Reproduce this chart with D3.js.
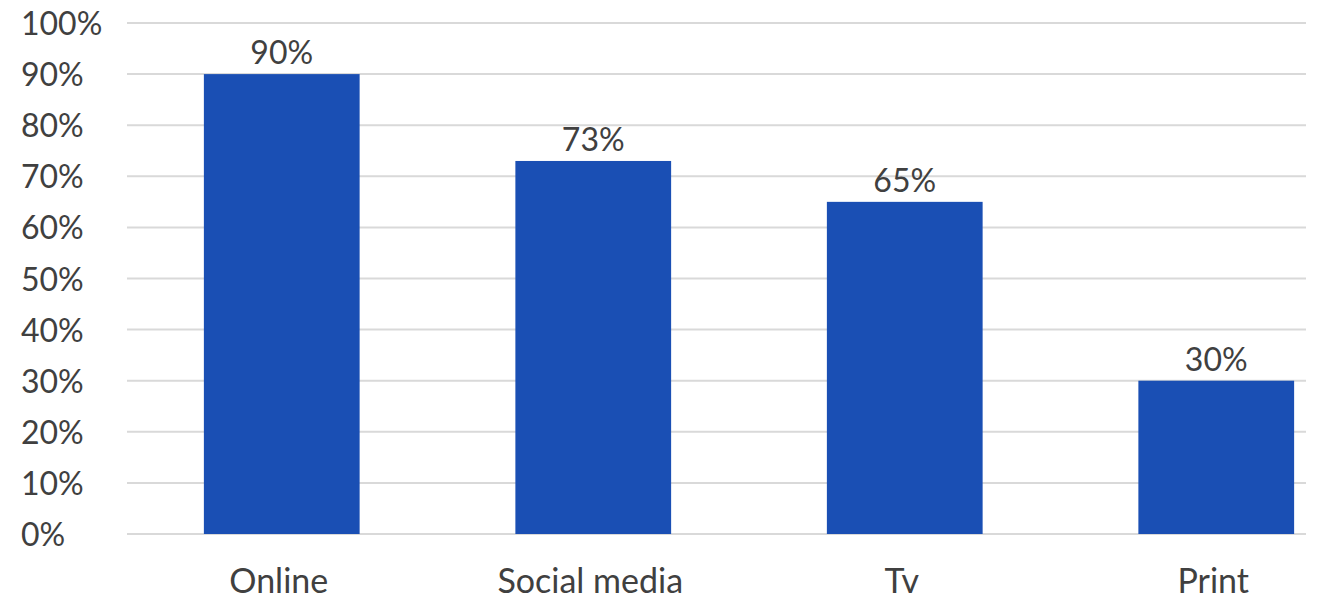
<!DOCTYPE html>
<html>
<head>
<meta charset="utf-8">
<script src="https://cdn.jsdelivr.net/npm/d3@7"></script>
<style>
  body { margin: 0; background: #fff; }
  text { font-family: Lato, "Open Sans", sans-serif; fill: #404040; }
</style>
</head>
<body>
<script>
var categories = ["Online", "Social media", "Tv", "Print"];
var values = [90, 73, 65, 30];
var yTicks = [0, 10, 20, 30, 40, 50, 60, 70, 80, 90, 100];

var svg = d3.select("body").append("svg")
            .attr("width", 1334)
            .attr("height", 608);

var x = d3.scaleBand()
          .domain(categories)
          .range([126, 1372])
          .paddingInner(0.5)
          .paddingOuter(0.25);

var y = d3.scaleLinear()
          .domain([0, 100])
          .range([534, 23]);

// gridlines
svg.append("g")
   .selectAll("line")
   .data(yTicks)
   .enter().append("line")
   .attr("x1", 127)
   .attr("x2", 1306)
   .attr("y1", function(d) { return y(d); })
   .attr("y2", function(d) { return y(d); })
   .style("stroke", "#d9d9d9")
   .style("stroke-width", 2);

// y labels, left aligned like the original
svg.append("g")
   .selectAll("text")
   .data(yTicks)
   .enter().append("text")
   .attr("x", 21)
   .attr("y", function(d) { return y(d) + 12; })
   .style("font-size", "32px")
   .text(function(d) { return d + "%"; });

// bars
svg.append("g")
   .selectAll("rect")
   .data(values)
   .enter().append("rect")
   .attr("x", function(d, i) { return x(categories[i]); })
   .attr("width", x.bandwidth())
   .attr("y", function(d) { return y(d); })
   .attr("height", function(d) { return y(0) - y(d); })
   .style("fill", "#1a4fb4");

// value labels
svg.append("g")
   .selectAll("text")
   .data(values)
   .enter().append("text")
   .attr("x", function(d, i) { return x(categories[i]) + x.bandwidth() / 2; })
   .attr("y", function(d) { return y(d) - 10; })
   .attr("text-anchor", "middle")
   .style("font-size", "32px")
   .text(function(d) { return d + "%"; });

// category labels
svg.append("g")
   .selectAll("text")
   .data(categories)
   .enter().append("text")
   .attr("x", function(d) { return x(d) + x.bandwidth() / 2 - 3; })
   .attr("y", 593)
   .attr("text-anchor", "middle")
   .style("font-size", "34px")
   .text(function(d) { return d; });
</script>
</body>
</html>
